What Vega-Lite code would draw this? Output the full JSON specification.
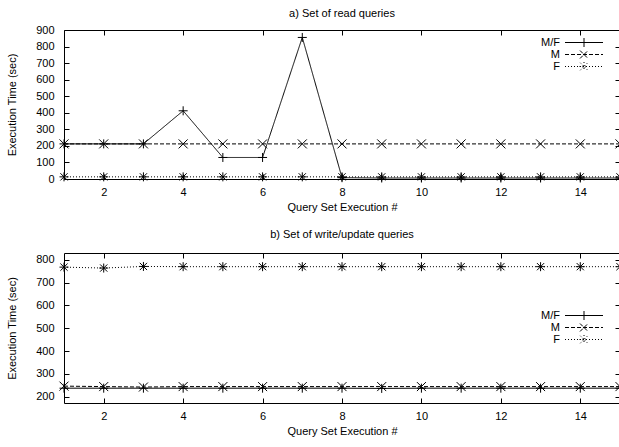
{
  "$schema": "https://vega.github.io/schema/vega-lite/v6.json",
  "padding": {"left": 6, "top": 7, "right": 1, "bottom": 2},
  "spacing": 15,
  "resolve": {"scale": {"strokeDash": "independent"}, "legend": {"strokeDash": "independent"}},
  "config": {
    "font": "Liberation Sans",
    "view": {"stroke": "black", "strokeWidth": 1},
    "axis": {
      "labelFont": "Liberation Sans", "labelFontSize": 11, "labelColor": "black",
      "titleFont": "Liberation Sans", "titleFontSize": 11, "titleFontWeight": "normal", "titleColor": "black",
      "tickColor": "black", "tickSize": -5, "labelPadding": 12, "domain": false, "grid": false
    },
    "axisY": {"labelPadding": 15, "titlePadding": 18},
    "title": {"font": "Liberation Sans", "fontSize": 11, "fontWeight": "normal", "color": "black"},
    "legend": {
      "orient": "none", "legendX": 514.5, "title": null, "padding": 0,
      "labelAlign": "right", "labelOffset": -29.5, "labelFont": "Liberation Sans", "labelFontSize": 11, "labelColor": "black",
      "symbolSize": 100, "symbolStrokeWidth": 1, "symbolStrokeColor": "black", "symbolFillColor": "transparent", "rowPadding": -1.5
    }
  },
  "datasets": {
    "read": [
      {"run": 1, "series": "M/F", "time": 212}, {"run": 2, "series": "M/F", "time": 212}, {"run": 3, "series": "M/F", "time": 212},
      {"run": 4, "series": "M/F", "time": 412}, {"run": 5, "series": "M/F", "time": 130}, {"run": 6, "series": "M/F", "time": 130},
      {"run": 7, "series": "M/F", "time": 855}, {"run": 8, "series": "M/F", "time": 8}, {"run": 9, "series": "M/F", "time": 6},
      {"run": 10, "series": "M/F", "time": 6}, {"run": 11, "series": "M/F", "time": 6}, {"run": 12, "series": "M/F", "time": 6},
      {"run": 13, "series": "M/F", "time": 6}, {"run": 14, "series": "M/F", "time": 6}, {"run": 15, "series": "M/F", "time": 6},
      {"run": 1, "series": "M", "time": 212}, {"run": 2, "series": "M", "time": 212}, {"run": 3, "series": "M", "time": 212},
      {"run": 4, "series": "M", "time": 212}, {"run": 5, "series": "M", "time": 212}, {"run": 6, "series": "M", "time": 212},
      {"run": 7, "series": "M", "time": 212}, {"run": 8, "series": "M", "time": 212}, {"run": 9, "series": "M", "time": 212},
      {"run": 10, "series": "M", "time": 212}, {"run": 11, "series": "M", "time": 212}, {"run": 12, "series": "M", "time": 212},
      {"run": 13, "series": "M", "time": 212}, {"run": 14, "series": "M", "time": 212}, {"run": 15, "series": "M", "time": 212},
      {"run": 1, "series": "F", "time": 13}, {"run": 2, "series": "F", "time": 13}, {"run": 3, "series": "F", "time": 13},
      {"run": 4, "series": "F", "time": 13}, {"run": 5, "series": "F", "time": 13}, {"run": 6, "series": "F", "time": 13},
      {"run": 7, "series": "F", "time": 13}, {"run": 8, "series": "F", "time": 13}, {"run": 9, "series": "F", "time": 13},
      {"run": 10, "series": "F", "time": 13}, {"run": 11, "series": "F", "time": 13}, {"run": 12, "series": "F", "time": 13},
      {"run": 13, "series": "F", "time": 13}, {"run": 14, "series": "F", "time": 13}, {"run": 15, "series": "F", "time": 13}
    ],
    "write": [
      {"run": 1, "series": "M/F", "time": 237}, {"run": 2, "series": "M/F", "time": 237}, {"run": 3, "series": "M/F", "time": 237},
      {"run": 4, "series": "M/F", "time": 237}, {"run": 5, "series": "M/F", "time": 237}, {"run": 6, "series": "M/F", "time": 237},
      {"run": 7, "series": "M/F", "time": 237}, {"run": 8, "series": "M/F", "time": 237}, {"run": 9, "series": "M/F", "time": 236},
      {"run": 10, "series": "M/F", "time": 237}, {"run": 11, "series": "M/F", "time": 237}, {"run": 12, "series": "M/F", "time": 237},
      {"run": 13, "series": "M/F", "time": 237}, {"run": 14, "series": "M/F", "time": 237}, {"run": 15, "series": "M/F", "time": 237},
      {"run": 1, "series": "M", "time": 246}, {"run": 2, "series": "M", "time": 244}, {"run": 3, "series": "M", "time": 242},
      {"run": 4, "series": "M", "time": 244}, {"run": 5, "series": "M", "time": 244}, {"run": 6, "series": "M", "time": 244},
      {"run": 7, "series": "M", "time": 244}, {"run": 8, "series": "M", "time": 244}, {"run": 9, "series": "M", "time": 244},
      {"run": 10, "series": "M", "time": 244}, {"run": 11, "series": "M", "time": 244}, {"run": 12, "series": "M", "time": 244},
      {"run": 13, "series": "M", "time": 244}, {"run": 14, "series": "M", "time": 244}, {"run": 15, "series": "M", "time": 244},
      {"run": 1, "series": "F", "time": 768}, {"run": 2, "series": "F", "time": 764}, {"run": 3, "series": "F", "time": 771},
      {"run": 4, "series": "F", "time": 770}, {"run": 5, "series": "F", "time": 770}, {"run": 6, "series": "F", "time": 770},
      {"run": 7, "series": "F", "time": 770}, {"run": 8, "series": "F", "time": 770}, {"run": 9, "series": "F", "time": 770},
      {"run": 10, "series": "F", "time": 770}, {"run": 11, "series": "F", "time": 770}, {"run": 12, "series": "F", "time": 770},
      {"run": 13, "series": "F", "time": 770}, {"run": 14, "series": "F", "time": 770}, {"run": 15, "series": "F", "time": 770}
    ]
  },
  "vconcat": [
    {
      "width": 556, "height": 149,
      "title": {"text": "a) Set of read queries", "offset": 5},
      "data": {"name": "read"},
      "encoding": {
        "x": {"field": "run", "type": "quantitative", "scale": {"domain": [1, 15], "nice": false, "zero": false}},
        "y": {"field": "time", "type": "quantitative", "scale": {"domain": [0, 900], "nice": false}}
      },
      "layer": [
        {
          "mark": {"type": "line", "strokeWidth": 1, "color": "black"},
          "encoding": {
            "x": {"field": "run", "type": "quantitative",
                  "axis": {"values": [2, 4, 6, 8, 10, 12, 14], "title": "Query Set Execution #", "titlePadding": 4}},
            "y": {"field": "time", "type": "quantitative",
                  "axis": {"values": [0, 100, 200, 300, 400, 500, 600, 700, 800, 900], "title": "Execution Time (sec)"}},
            "strokeDash": {"field": "series", "type": "nominal",
                           "scale": {"domain": ["M/F", "M", "F"], "range": [[1, 0], [4, 2], [1, 2]]},
                           "legend": {"legendY": 7,
                             "encode": {"symbols": {"update": {"shape": {"signal": "datum.value === 'M/F' ? 'M-3.8,0L3.8,0M0,-0.9L0,0.9' : datum.value === 'M' ? 'M-3.8,0L3.8,0M-0.8,-0.8L0.8,0.8M-0.8,0.8L0.8,-0.8' : 'M-3.8,0L3.8,0M-0.9,0L0.9,0M0,-0.9L0,0.9M-0.75,-0.75L0.75,0.75M-0.75,0.75L0.75,-0.75'"}, "stroke": {"value": "black"}, "fill": {"value": "transparent"}, "strokeWidth": {"value": 1}}}}}}
          }
        },
        {
          "transform": [{"filter": "datum.series === 'M/F'"}],
          "mark": {"type": "point", "filled": false, "stroke": "black", "strokeWidth": 1, "size": 81, "opacity": 1, "shape": "M-1,0L1,0M0,-1L0,1"},
          "encoding": {
            "x": {"field": "run", "type": "quantitative",
                  "axis": {"orient": "top", "labels": false, "title": null, "values": [2, 4, 6, 8, 10, 12, 14]}},
            "y": {"field": "time", "type": "quantitative",
                  "axis": {"orient": "right", "labels": false, "title": null, "values": [0, 100, 200, 300, 400, 500, 600, 700, 800, 900]}}
          }
        },
        {
          "transform": [{"filter": "datum.series === 'M'"}],
          "mark": {"type": "point", "filled": false, "stroke": "black", "strokeWidth": 1, "size": 81, "opacity": 1, "shape": "M-1,-1L1,1M-1,1L1,-1"},
          "encoding": {
            "x": {"field": "run", "type": "quantitative", "axis": null},
            "y": {"field": "time", "type": "quantitative", "axis": null}
          }
        },
        {
          "transform": [{"filter": "datum.series === 'F'"}],
          "mark": {"type": "point", "filled": false, "stroke": "black", "strokeWidth": 1, "size": 81, "opacity": 1, "shape": "M-1,0L1,0M0,-1L0,1M-0.8,-0.8L0.8,0.8M-0.8,0.8L0.8,-0.8"},
          "encoding": {
            "x": {"field": "run", "type": "quantitative", "axis": null},
            "y": {"field": "time", "type": "quantitative", "axis": null}
          }
        }
      ],
      "resolve": {"axis": {"x": "independent", "y": "independent"}}
    },
    {
      "width": 556, "height": 150,
      "title": {"text": "b) Set of write/update queries", "offset": 13},
      "data": {"name": "write"},
      "encoding": {
        "x": {"field": "run", "type": "quantitative", "scale": {"domain": [1, 15], "nice": false, "zero": false}},
        "y": {"field": "time", "type": "quantitative", "scale": {"domain": [172, 830], "nice": false, "zero": false}}
      },
      "layer": [
        {
          "mark": {"type": "line", "strokeWidth": 1, "color": "black"},
          "encoding": {
            "x": {"field": "run", "type": "quantitative",
                  "axis": {"values": [2, 4, 6, 8, 10, 12, 14], "title": "Query Set Execution #", "titlePadding": 4}},
            "y": {"field": "time", "type": "quantitative",
                  "axis": {"values": [200, 300, 400, 500, 600, 700, 800], "title": "Execution Time (sec)"}},
            "strokeDash": {"field": "series", "type": "nominal",
                           "scale": {"domain": ["M/F", "M", "F"], "range": [[1, 0], [4, 2], [1, 2]]},
                           "legend": {"legendY": 57,
                             "encode": {"symbols": {"update": {"shape": {"signal": "datum.value === 'M/F' ? 'M-3.8,0L3.8,0M0,-0.9L0,0.9' : datum.value === 'M' ? 'M-3.8,0L3.8,0M-0.8,-0.8L0.8,0.8M-0.8,0.8L0.8,-0.8' : 'M-3.8,0L3.8,0M-0.9,0L0.9,0M0,-0.9L0,0.9M-0.75,-0.75L0.75,0.75M-0.75,0.75L0.75,-0.75'"}, "stroke": {"value": "black"}, "fill": {"value": "transparent"}, "strokeWidth": {"value": 1}}}}}}
          }
        },
        {
          "transform": [{"filter": "datum.series === 'M/F'"}],
          "mark": {"type": "point", "filled": false, "stroke": "black", "strokeWidth": 1, "size": 81, "opacity": 1, "shape": "M-1,0L1,0M0,-1L0,1"},
          "encoding": {
            "x": {"field": "run", "type": "quantitative",
                  "axis": {"orient": "top", "labels": false, "title": null, "values": [2, 4, 6, 8, 10, 12, 14]}},
            "y": {"field": "time", "type": "quantitative",
                  "axis": {"orient": "right", "labels": false, "title": null, "values": [200, 300, 400, 500, 600, 700, 800]}}
          }
        },
        {
          "transform": [{"filter": "datum.series === 'M'"}],
          "mark": {"type": "point", "filled": false, "stroke": "black", "strokeWidth": 1, "size": 81, "opacity": 1, "shape": "M-1,-1L1,1M-1,1L1,-1"},
          "encoding": {
            "x": {"field": "run", "type": "quantitative", "axis": null},
            "y": {"field": "time", "type": "quantitative", "axis": null}
          }
        },
        {
          "transform": [{"filter": "datum.series === 'F'"}],
          "mark": {"type": "point", "filled": false, "stroke": "black", "strokeWidth": 1, "size": 81, "opacity": 1, "shape": "M-1,0L1,0M0,-1L0,1M-0.8,-0.8L0.8,0.8M-0.8,0.8L0.8,-0.8"},
          "encoding": {
            "x": {"field": "run", "type": "quantitative", "axis": null},
            "y": {"field": "time", "type": "quantitative", "axis": null}
          }
        }
      ],
      "resolve": {"axis": {"x": "independent", "y": "independent"}}
    }
  ]
}
